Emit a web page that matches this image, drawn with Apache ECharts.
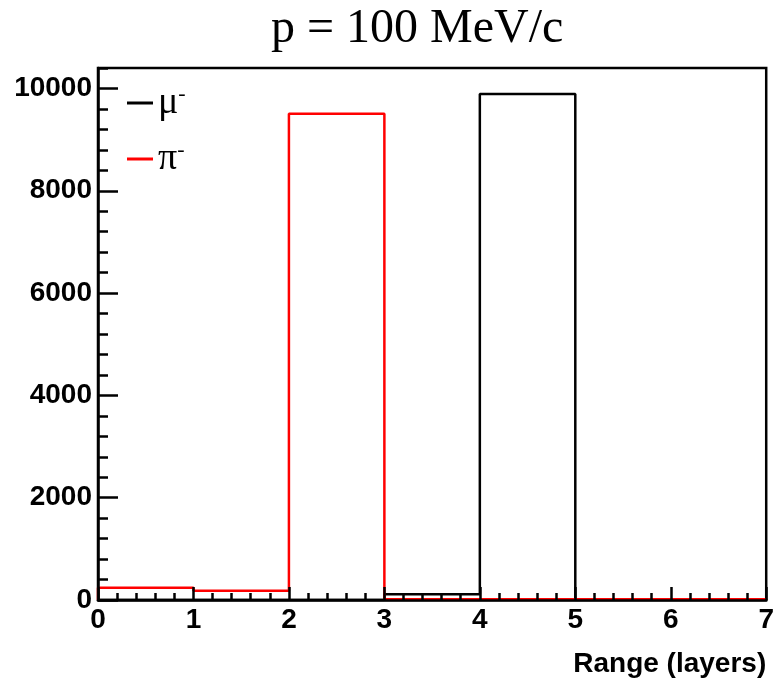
<!DOCTYPE html>
<html><head><meta charset="utf-8">
<script src="https://cdn.jsdelivr.net/npm/echarts@6/dist/echarts.min.js"></script>
<style>html,body{margin:0;padding:0;background:#fff}#c{width:777px;height:684px}</style>
</head><body><div id="c"></div>
<script>
// ---- data ----
const binEdges = [0, 1, 2, 3, 4, 5, 6, 7];
const muCounts = [0, 0, 0, 111, 9890, 0, 0];
const piCounts = [240, 182, 9505, 15, 15, 15, 15];
const seriesNames = ['μ', 'π'];
const seriesColors = ['#000000', '#ff0000'];
const xMin = 0, xMax = 7, xMajor = 1, xMinor = 0.2;
const yMin = 0, yMax = 10400, yMajor = 2000, yMinor = 400;
const titleText = 'p = 100 MeV/c';
const xName = 'Range (layers)';

function histPoints(edges, counts) {
  const pts = [[edges[0], 0]];
  for (let i = 0; i < counts.length; i++) pts.push([edges[i], counts[i]]);
  pts.push([edges[edges.length - 1], counts[counts.length - 1]]);
  pts.push([edges[edges.length - 1], 0]);
  return pts;
}

const labelFont = { fontFamily: 'Liberation Sans', fontWeight: 'bold', fontSize: 28, color: '#000' };
const LW = 2.5;

const chart = echarts.init(document.getElementById('c'), null, { renderer: 'canvas' });
chart.setOption({
  animation: false,
  backgroundColor: '#fff',
  title: {
    text: titleText, left: 266, top: 0,
    textStyle: { fontFamily: 'Liberation Serif', fontWeight: 'normal', fontSize: 48, color: '#000' }
  },
  grid: { left: 98, right: 7, top: 68, bottom: 84, show: true, borderColor: '#000', borderWidth: LW, backgroundColor: 'transparent', containLabel: false },
  legend: {
    orient: 'vertical', left: 122, top: 78, itemWidth: 26, itemHeight: 3, itemGap: 17, icon: 'rect',
    data: seriesNames,
    formatter: n => '{b|' + n + '}{s|-}',
    textStyle: {
      rich: {
        b: { fontFamily: 'Liberation Serif', fontSize: 38, color: '#000', lineHeight: 40 },
        s: { fontFamily: 'Liberation Serif', fontSize: 22, color: '#000', padding: [0, 0, 18, 0] }
      }
    }
  },
  xAxis: [
    {
      type: 'value', min: xMin, max: xMax, interval: xMajor, z: 5,
      axisLine: { show: true, lineStyle: { color: '#000', width: LW } },
      axisTick: { show: true, inside: true, length: 13, lineStyle: { color: '#000', width: LW } },
      axisLabel: Object.assign({ margin: 6, formatter: v => String(v) }, labelFont),
      splitLine: { show: false },
      name: xName, nameLocation: 'end', nameGap: 0,
      nameTextStyle: Object.assign({ align: 'right', verticalAlign: 'top', padding: [50, 0, 0, 0] }, labelFont)
    },
    {
      type: 'value', min: xMin, max: xMax, interval: xMinor, position: 'bottom', z: 5,
      axisLine: { show: false },
      axisTick: { show: true, inside: true, length: 7, lineStyle: { color: '#000', width: LW } },
      axisLabel: { show: false },
      splitLine: { show: false }
    }
  ],
  yAxis: [
    {
      type: 'value', min: yMin, max: yMax, interval: yMajor, z: 5,
      axisLine: { show: true, lineStyle: { color: '#000', width: LW } },
      axisTick: { show: true, inside: true, length: 20, lineStyle: { color: '#000', width: LW } },
      axisLabel: Object.assign({ margin: 6, showMaxLabel: false, formatter: v => String(v) }, labelFont),
      splitLine: { show: false }
    },
    {
      type: 'value', min: yMin, max: yMax, interval: yMinor, position: 'left', offset: 0, z: 5,
      axisLine: { show: false },
      axisTick: { show: true, inside: true, length: 10, lineStyle: { color: '#000', width: LW } },
      axisLabel: { show: false },
      splitLine: { show: false }
    }
  ],
  series: [
    {
      name: seriesNames[0], type: 'line', step: 'end', xAxisIndex: 0, yAxisIndex: 0,
      data: histPoints(binEdges, muCounts), showSymbol: false, symbol: 'none',
      color: seriesColors[0], lineStyle: { width: LW, color: seriesColors[0] }
    },
    {
      name: seriesNames[1], type: 'line', step: 'end', xAxisIndex: 0, yAxisIndex: 0,
      data: histPoints(binEdges, piCounts), showSymbol: false, symbol: 'none',
      color: seriesColors[1], lineStyle: { width: LW, color: seriesColors[1] }
    }
  ]
});
</script>
</body></html>
